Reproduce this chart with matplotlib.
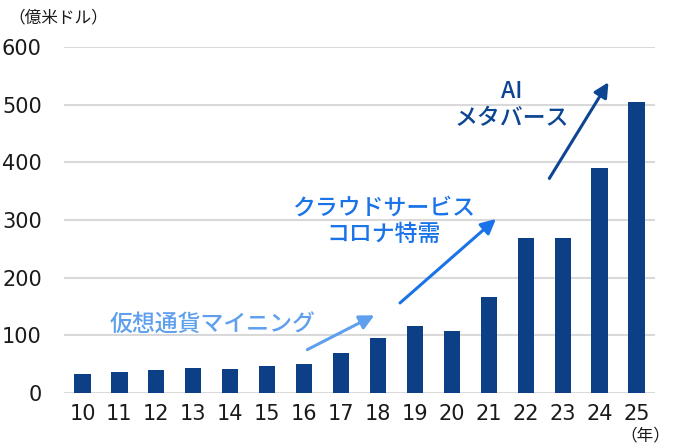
import numpy as np
import matplotlib.pyplot as plt

plt.rcParams['font.family'] = ['Noto Sans CJK JP', 'DejaVu Sans']

years = ['10', '11', '12', '13', '14', '15', '16', '17', '18', '19', '20', '21', '22', '23', '24', '25']
values = [33, 36, 40, 43, 42, 47, 50, 69, 96, 116, 108, 166, 268, 268, 391, 505]
yticks = [0, 100, 200, 300, 400, 500, 600]

bar_color = '#0d3f87'
light_blue = '#5fa0ee'
mid_blue = '#1a73e8'
dark_blue = '#0d4593'

fig = plt.figure(figsize=(6.76, 4.47), dpi=100)
ax = fig.add_axes([64/676, 54/447, 591/676, 346/447])

x = np.arange(len(years))
ax.bar(x, values, width=0.44, color=bar_color, zorder=3)

ax.set_xlim(-0.5, len(years) - 0.5)
ax.set_ylim(0, 600)
ax.set_yticks(yticks)
ax.set_xticks(x)
ax.set_xticklabels(years)
ax.yaxis.grid(True, color='#d9d9d9', linewidth=1.5, zorder=0)
ax.set_axisbelow(True)
for s in ax.spines.values():
    s.set_visible(False)
ax.tick_params(axis='both', length=0, labelsize=15, labelcolor='#1a1a1a')
ax.tick_params(axis='y', pad=16)
ax.tick_params(axis='x', pad=8)
for lbl in ax.get_xticklabels() + ax.get_yticklabels():
    lbl.set_family('DejaVu Sans')

# arrows and labels
ax.annotate('', xy=(7.97, 137), xytext=(6.02, 73),
            arrowprops=dict(arrowstyle='-|>', color=light_blue, lw=2.2, mutation_scale=22))
ax.annotate('', xy=(11.25, 305), xytext=(8.54, 153),
            arrowprops=dict(arrowstyle='-|>', color=mid_blue, lw=2.2, mutation_scale=22))
ax.annotate('', xy=(14.28, 543), xytext=(12.6, 368),
            arrowprops=dict(arrowstyle='-|>', color=dark_blue, lw=2.2, mutation_scale=22))

ax.text(3.53, 118, '仮想通貨マイニング', color=light_blue, fontsize=16.5,
        ha='center', va='center', fontweight='medium')
ax.text(8.15, 298, 'クラウドサービス\nコロナ特需', color=mid_blue, fontsize=16.5,
        ha='center', va='center', linespacing=1.2, fontweight='medium')
ax.text(11.63, 499, 'AI\nメタバース', color=dark_blue, fontsize=16.5,
        ha='center', va='center', linespacing=1.2, fontweight='medium')

fig.text(8/676, 1 - 18/447, '（億米ドル）', fontsize=12, ha='left', va='center', color='#1a1a1a')
fig.text(670/676, 3/447, '（年）', fontsize=12, ha='right', va='bottom', color='#1a1a1a')

fig.savefig('out.png', dpi=100)
